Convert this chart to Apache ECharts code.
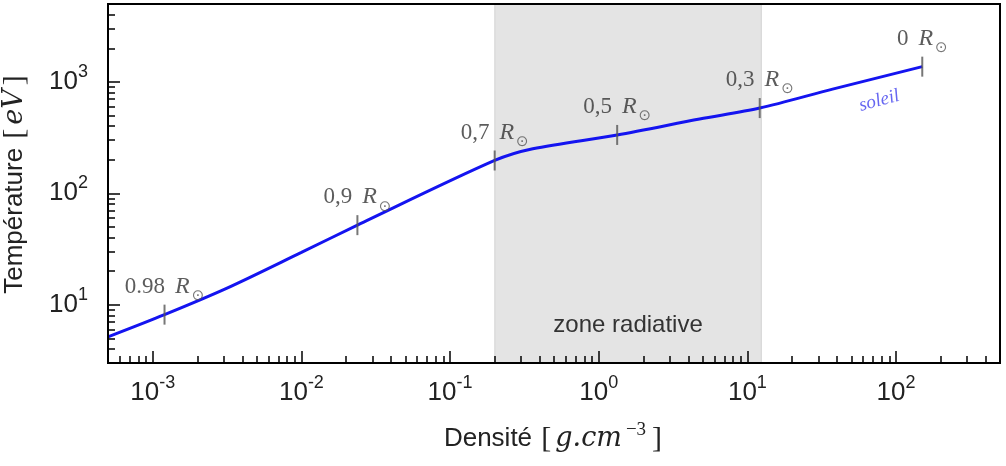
<!DOCTYPE html>
<html>
<head>
<meta charset="utf-8">
<script src="https://cdn.jsdelivr.net/npm/echarts@6/dist/echarts.min.js"></script>
<style>
  html, body { margin: 0; padding: 0; background: #fff; }
  #chart { width: 1006px; height: 466px; }
</style>
</head>
<body>
<div id="chart"></div>
<script>
// solar profile: density (g/cm3) vs temperature (eV)
const density = [5e-4, 1.2e-3, 3.16e-3, 0.01, 0.0238, 0.1995, 0.36, 1.33, 4.77, 12.1, 37.4, 150];
const temperature = [5.15, 8.15, 14.1, 29.5, 51.8, 197, 251, 334, 464, 582, 861, 1370];

// radius markers along the curve
const radiusLabels = ['0.98', '0,9', '0,7', '0,5', '0,3', '0'];
const radiusDensity = [1.2e-3, 0.0238, 0.1995, 1.33, 12.1, 150];
const radiusTemperature = [8.15, 51.8, 197, 334, 582, 1370];

const radiativeZone = [0.2, 12.4];
const soleilPos = [77, 676];

const xMajorTicks = [1e-3, 1e-2, 1e-1, 1, 10, 100];
const xMinorTicks = [6e-4, 7e-4, 8e-4, 9e-4,
  2e-3, 3e-3, 4e-3, 5e-3, 6e-3, 7e-3, 8e-3, 9e-3,
  2e-2, 3e-2, 4e-2, 5e-2, 6e-2, 7e-2, 8e-2, 9e-2,
  0.2, 0.3, 0.4, 0.5, 0.6, 0.7, 0.8, 0.9,
  2, 3, 4, 5, 6, 7, 8, 9,
  20, 30, 40, 50, 60, 70, 80, 90,
  200, 300, 400];
const yMajorTicks = [10, 100, 1000];
const yMinorTicks = [4, 5, 6, 7, 8, 9,
  20, 30, 40, 50, 60, 70, 80, 90,
  200, 300, 400, 500, 600, 700, 800, 900,
  2000, 3000, 4000];

const chart = echarts.init(document.getElementById('chart'));

const powLabel = (v) => `{b|10}{e|${Math.round(Math.log10(v))}}`;
const powRich = {
  b: { fontFamily: 'Liberation Sans', fontSize: 26, color: '#222', lineHeight: 38 },
  e: { fontFamily: 'Liberation Sans', fontSize: 18, color: '#222', lineHeight: 18, verticalAlign: 'top' },
};
const nameRich = {
  k: { fontFamily: 'Liberation Serif', fontSize: 30, color: '#222', lineHeight: 36, padding: [0, 2, 0, 2] },
  i: { fontFamily: 'DejaVu Serif', fontStyle: 'italic', fontSize: 27, color: '#222', lineHeight: 36, padding: [0, 2, 0, 2] },
  e: { fontFamily: 'Liberation Serif', fontSize: 19, color: '#222', lineHeight: 19, verticalAlign: 'top', padding: [0, 4, 0, 2] },
};

const option = {
  animation: false,
  backgroundColor: '#fff',
  grid: {
    left: 108,
    right: 6,
    top: 4,
    bottom: 103,
    outerBoundsMode: 'none',
    containLabel: false,
    show: true,
    z: 10,
    borderColor: '#000',
    borderWidth: 2,
  },
  xAxis: [
    {
      type: 'log',
      logBase: 10,
      min: 5e-4,
      max: 500,
      position: 'bottom',
      z: 10,
      axisLine: { lineStyle: { color: '#000', width: 2 } },
      axisTick: { inside: true, length: 12, customValues: xMajorTicks, lineStyle: { color: '#000', width: 1.5 } },
      axisLabel: { customValues: xMajorTicks, formatter: powLabel, margin: 11, rich: powRich },
      splitLine: { show: false },
      name: 'Densité {k|[}{i|g.cm}{e|−3}{k|]}',
      nameLocation: 'middle',
      nameGap: 58,
      nameTextStyle: { fontFamily: 'Liberation Sans', fontSize: 26, color: '#222', lineHeight: 36, rich: nameRich },
    },
    {
      type: 'log',
      logBase: 10,
      min: 5e-4,
      max: 500,
      position: 'bottom',
      z: 10,
      axisLine: { show: false },
      axisTick: { inside: true, length: 7, customValues: xMinorTicks, lineStyle: { color: '#000', width: 1.5 } },
      axisLabel: { show: false },
      splitLine: { show: false },
    },
  ],
  yAxis: [
    {
      type: 'log',
      logBase: 10,
      min: 3,
      max: 5000,
      position: 'left',
      z: 10,
      axisLine: { lineStyle: { color: '#000', width: 2 } },
      axisTick: { inside: true, length: 12, customValues: yMajorTicks, lineStyle: { color: '#000', width: 1.5 } },
      axisLabel: { customValues: yMajorTicks, formatter: powLabel, margin: 20, rich: powRich },
      splitLine: { show: false },
      name: 'Température {k|[}{i|eV}{k|]}',
      nameLocation: 'middle',
      nameGap: 75,
      nameTextStyle: { fontFamily: 'Liberation Sans', fontSize: 26, color: '#222', lineHeight: 36, rich: nameRich },
    },
    {
      type: 'log',
      logBase: 10,
      min: 3,
      max: 5000,
      position: 'left',
      z: 10,
      axisLine: { show: false },
      axisTick: { inside: true, length: 7, customValues: yMinorTicks, lineStyle: { color: '#000', width: 1.5 } },
      axisLabel: { show: false },
      splitLine: { show: false },
    },
  ],
  series: [
    {
      name: 'soleil',
      type: 'line',
      data: density.map((d, i) => [d, temperature[i]]),
      showSymbol: false,
      smooth: 0.3,
      z: 3,
      lineStyle: { color: '#1414f0', width: 3 },
      markArea: {
        silent: true,
        itemStyle: { color: '#e4e4e4', borderColor: '#d2d2d2', borderWidth: 1 },
        label: {
          show: true,
          position: 'insideBottom',
          distance: 26,
          color: '#333',
          fontFamily: 'Liberation Sans',
          fontSize: 24,
        },
        data: [[{ name: 'zone radiative', xAxis: radiativeZone[0] }, { xAxis: radiativeZone[1] }]],
      },
    },
    {
      name: 'rayons',
      type: 'scatter',
      z: 4,
      symbol: 'rect',
      symbolSize: [2, 20],
      itemStyle: { color: '#555' },
      data: radiusDensity.map((d, i) => ({ value: [d, radiusTemperature[i]], name: radiusLabels[i] })),
      label: {
        show: true,
        position: 'top',
        distance: 1,
        formatter: (p) => `{n|${p.name}}{g| }{r|R}{s|⊙}`,
        rich: {
          n: { fontFamily: 'Liberation Serif', fontSize: 23, color: '#333', lineHeight: 34 },
          g: { width: 10, lineHeight: 34 },
          r: { fontFamily: 'Liberation Serif', fontStyle: 'italic', fontSize: 24, color: '#333', lineHeight: 34 },
          s: { fontFamily: 'DejaVu Sans', fontSize: 15, color: '#555', lineHeight: 18, verticalAlign: 'bottom', padding: [0, 0, 0, 2] },
        },
      },
    },
    {
      name: 'nom',
      type: 'scatter',
      z: 4,
      symbolSize: 1,
      itemStyle: { color: 'rgba(0,0,0,0)' },
      data: [soleilPos],
      label: {
        show: true,
        position: 'inside',
        formatter: 'soleil',
        rotate: 15,
        color: '#4040ee',
        fontFamily: 'Liberation Serif',
        fontStyle: 'italic',
        fontSize: 19,
      },
    },
  ],
};

chart.setOption(option);
window.addEventListener('resize', () => chart.resize());
</script>
</body>
</html>
